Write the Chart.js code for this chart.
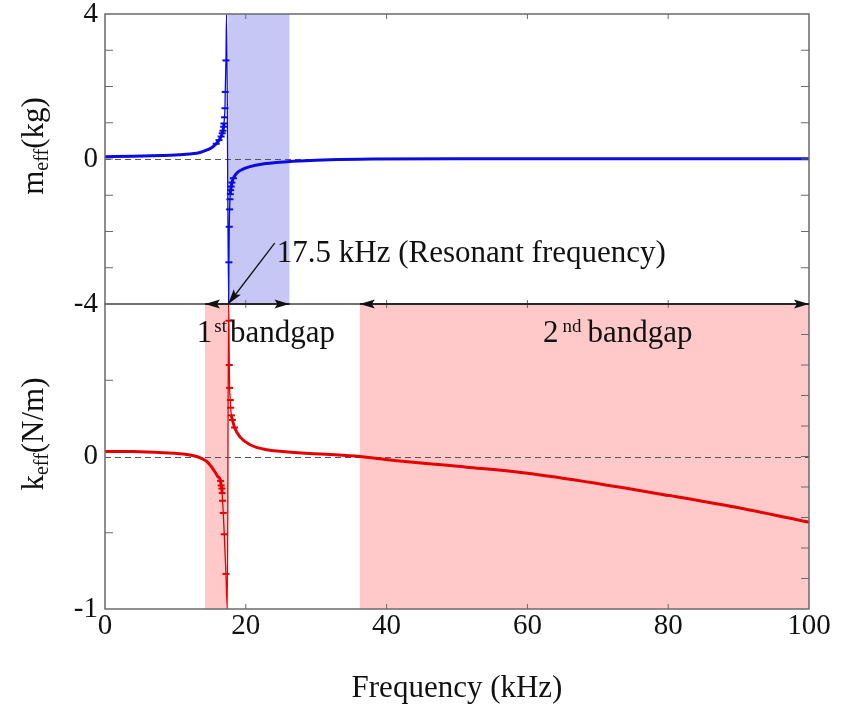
<!DOCTYPE html>
<html>
<head>
<meta charset="utf-8">
<script src="https://cdn.jsdelivr.net/npm/chart.js@4.4.1/dist/chart.umd.min.js"></script>
<style>
  html, body { margin: 0; padding: 0; background: #fff; }
  #wrap { width: 843px; height: 711px; }
</style>
</head>
<body>
<div id="wrap"><canvas id="bandChart" width="843" height="711"></canvas></div>
<script>
// x axis (kHz)
const freqTicks = [0, 20, 40, 60, 80, 100];

// effective mass m_eff (kg) - upper panel
const massFreq = [0, 4, 8, 10, 12, 13.5, 14.5, 15.2, 15.8, 16.2, 16.5, 16.65, 16.75, 16.85, 16.9, 16.97, 17.04, 17.08, 17.18, 17.27,
                  17.56, 17.6, 17.65, 17.7, 17.75, 17.8, 17.85, 17.93, 18.03, 18.24, 18.7, 19.6, 20.6, 22.4, 24.8, 27.7, 32, 38, 50, 70, 100];
const massVal  = [0.065, 0.075, 0.095, 0.11, 0.14, 0.18, 0.25, 0.32, 0.42, 0.52, 0.62, 0.71, 0.78, 0.89, 0.98, 1.15, 1.40, 1.85, 2.72, 4.0,
                  -4.0, -2.85, -1.87, -1.39, -1.11, -0.97, -0.86, -0.76, -0.65, -0.53, -0.39, -0.28, -0.21, -0.14, -0.09, -0.055, -0.02, 0, 0.01, 0.01, 0.01];

// effective stiffness k_eff (N/m) - lower panel
const stiffFreq = [0, 4, 8.3, 11.6, 13, 14.4, 15, 15.6, 16, 16.42, 16.5, 16.6, 16.64, 16.7, 16.8, 16.94, 17.18, 17.37,
                   17.56, 17.6, 17.65, 17.7, 17.8, 17.85, 17.95, 18.1, 18.4, 19.2, 20.6, 23, 26, 29, 32, 36.2, 41.9, 51.4, 60, 70.3, 80, 89.2, 100];
const stiffVal  = [0.033, 0.032, 0.024, 0.013, 0, -0.03, -0.06, -0.10, -0.13, -0.16, -0.19, -0.21, -0.24, -0.29, -0.37, -0.51, -0.77, -1.0,
                   1.0, 0.89, 0.60, 0.45, 0.37, 0.32, 0.27, 0.24, 0.19, 0.127, 0.077, 0.044, 0.03, 0.02, 0.013, 0, -0.03, -0.07, -0.11, -0.18, -0.255, -0.33, -0.43];

// labelled ticks on the two y axes
const massTickLabels = [4, 0, -4];
const stiffTickLabels = [0, -1];

// band gaps (kHz)
const massBand = [17.5, 26.2];
const stiffBands = [[14.2, 17.5], [36.2, 100]];
const gapArrows = [[14.2, 26.2], [36.2, 100]];
const resonantFreq = 17.5;

const FONT = "'Liberation Serif', 'Times New Roman', serif";
const BLUE = '#0b0bdc';
const RED = '#e60000';
const FRAME = '#6a6a6a';

function toPoints(xs, ys) {
    return xs.map((f, i) => ({ x: f, y: ys[i] }));
}

// thin line where the curve jumps (near resonance), thick elsewhere
function segWidth(ctx) {
    const dx = Math.abs(ctx.p1.x - ctx.p0.x);
    const dy = Math.abs(ctx.p1.y - ctx.p0.y);
    return dy > 3 * dx + 4 ? 1.3 : 3;
}

function drawRich(ctx, parts, x, y) {
    let cx = x;
    parts.forEach(p => {
        ctx.font = p.size + 'px ' + FONT;
        cx += (p.gap || 0);
        ctx.fillText(p.text, cx, y + (p.dy || 0));
        cx += ctx.measureText(p.text).width;
    });
    return cx - x;
}

function richWidth(ctx, parts) {
    let w = 0;
    parts.forEach(p => {
        ctx.font = p.size + 'px ' + FONT;
        w += ctx.measureText(p.text).width + (p.gap || 0);
    });
    return w;
}

function arrowHead(ctx, x, y, angle) {
    ctx.save();
    ctx.translate(x, y);
    ctx.rotate(angle);
    ctx.beginPath();
    ctx.moveTo(0, 0);
    ctx.lineTo(-15, -4.5);
    ctx.lineTo(-12, 0);
    ctx.lineTo(-15, 4.5);
    ctx.closePath();
    ctx.fill();
    ctx.restore();
}

const decor = {
    id: 'decor',
    beforeDatasetsDraw(chart) {
        const { ctx, scales: { x, yM, yK } } = chart;
        ctx.save();
        // band gap shading
        ctx.fillStyle = '#c7c7f6';
        let a = x.getPixelForValue(massBand[0]), b = x.getPixelForValue(massBand[1]);
        ctx.fillRect(a, yM.top, b - a, yM.bottom - yM.top);
        ctx.fillStyle = '#ffc9c9';
        stiffBands.forEach(r => {
            const l = x.getPixelForValue(r[0]), h = x.getPixelForValue(r[1]);
            ctx.fillRect(l, yK.top, h - l, yK.bottom - yK.top);
        });
        // dashed zero lines
        ctx.strokeStyle = '#555';
        ctx.lineWidth = 1.2;
        ctx.setLineDash([6, 4]);
        [yM, yK].forEach(s => {
            const y0 = Math.round(s.getPixelForValue(0)) + 0.5;
            ctx.beginPath();
            ctx.moveTo(x.left, y0);
            ctx.lineTo(x.right, y0);
            ctx.stroke();
        });
        ctx.restore();
    },
    afterDatasetsDraw(chart) {
        const { ctx, scales: { x, yM, yK } } = chart;
        const L = x.left, R = x.right;
        ctx.save();
        // frames
        ctx.strokeStyle = FRAME;
        ctx.lineWidth = 1.5;
        ctx.strokeRect(L, yM.top, R - L, yM.bottom - yM.top);
        ctx.strokeRect(L, yK.top, R - L, yK.bottom - yK.top);

        // inward tick marks
        ctx.lineWidth = 1;
        ctx.beginPath();
        for (let v = -3; v <= 3; v++) {
            const y = yM.getPixelForValue(v);
            ctx.moveTo(L, y); ctx.lineTo(L + 8, y);
            ctx.moveTo(R, y); ctx.lineTo(R - 8, y);
        }
        [-0.5, 0.5].forEach(v => {
            const y = yK.getPixelForValue(v);
            ctx.moveTo(L, y); ctx.lineTo(L + 8, y);
        });
        for (let i = -4; i <= 4; i++) {
            const y = yK.getPixelForValue(i * 0.2);
            ctx.moveTo(R, y); ctx.lineTo(R - 8, y);
        }
        freqTicks.slice(1, -1).forEach(f => {
            const px = x.getPixelForValue(f);
            ctx.moveTo(px, yM.top); ctx.lineTo(px, yM.top + 5);
            ctx.moveTo(px, yM.bottom - 4); ctx.lineTo(px, yM.bottom + 4);
            ctx.moveTo(px, yK.bottom); ctx.lineTo(px, yK.bottom - 5);
        });
        ctx.stroke();

        // band gap double arrows on the panel boundary
        ctx.strokeStyle = '#111';
        ctx.fillStyle = '#111';
        ctx.lineWidth = 1.5;
        const yb = yM.bottom;
        gapArrows.forEach(r => {
            const l = x.getPixelForValue(r[0]), h = x.getPixelForValue(r[1]);
            ctx.beginPath();
            ctx.moveTo(l, yb); ctx.lineTo(h, yb);
            ctx.stroke();
            arrowHead(ctx, l, yb, Math.PI);
            arrowHead(ctx, h, yb, 0);
        });

        // resonance pointer
        const tx = x.getPixelForValue(resonantFreq), ty = yM.getPixelForValue(-4);
        const sx = x.getPixelForValue(24.1), sy = yM.getPixelForValue(-2.32);
        ctx.lineWidth = 1.3;
        ctx.beginPath();
        ctx.moveTo(sx, sy); ctx.lineTo(tx, ty);
        ctx.stroke();
        arrowHead(ctx, tx, ty, Math.atan2(ty - sy, tx - sx));

        // texts
        ctx.fillStyle = '#111';
        ctx.textBaseline = 'alphabetic';
        ctx.textAlign = 'left';
        drawRich(ctx, [{ text: '17.5 kHz (Resonant frequency)', size: 31 }],
                 x.getPixelForValue(24.4), yM.getPixelForValue(-2.84));
        const gy = yK.getPixelForValue(0.75);
        drawRich(ctx, [{ text: '1', size: 31 }, { text: 'st', size: 19, dy: -10, gap: 2 }, { text: 'bandgap', size: 31, gap: 3 }],
                 x.getPixelForValue(13.05), gy);
        drawRich(ctx, [{ text: '2', size: 31 }, { text: 'nd', size: 19, dy: -10, gap: 4 }, { text: 'bandgap', size: 31, gap: 6 }],
                 x.getPixelForValue(62.2), gy);

        // rotated y titles with subscripts
        const titles = [
            { parts: [{ text: 'm', size: 31 }, { text: 'eff', size: 20, dy: 5 }, { text: '(kg)', size: 31 }], cy: 146 },
            { parts: [{ text: 'k', size: 31 }, { text: 'eff', size: 20, dy: 5 }, { text: '(N/m)', size: 31 }], cy: 434 }
        ];
        titles.forEach(t => {
            ctx.save();
            ctx.translate(43, t.cy);
            ctx.rotate(-Math.PI / 2);
            const w = richWidth(ctx, t.parts);
            drawRich(ctx, t.parts, -w / 2, 0);
            ctx.restore();
        });
        ctx.restore();
    }
};

function lineSet(label, xs, ys, axis, color, lo, hi) {
    return {
        label: label,
        data: toPoints(xs, ys),
        xAxisID: 'x',
        yAxisID: axis,
        borderColor: color,
        backgroundColor: color,
        borderWidth: 3,
        cubicInterpolationMode: 'monotone',
        pointStyle: 'line',
        pointBorderWidth: 2,
        pointRadius: c => {
            const v = Math.abs(c.raw.y);
            return v >= lo && v < hi ? 3.5 : 0;
        },
        segment: { borderWidth: segWidth },
        fill: false
    };
}

const tickFont = { family: FONT, size: 29 };

// y axes: fixed width, no extra room for half tick labels
function fitY(s) {
    s.width = 105;
    s.paddingTop = 0;
    s.paddingBottom = 0;
}

new Chart(document.getElementById('bandChart').getContext('2d'), {
    type: 'line',
    data: {
        datasets: [
            lineSet('m_eff', massFreq, massVal, 'yM', BLUE, 0.4, 3.5),
            lineSet('k_eff', stiffFreq, stiffVal, 'yK', RED, 0.14, 0.95)
        ]
    },
    options: {
        responsive: false,
        animation: false,
        layout: { padding: { top: 14, right: 34, left: 0, bottom: 0 } },
        plugins: { legend: { display: false }, tooltip: { enabled: false } },
        scales: {
            x: {
                type: 'linear', position: 'bottom', min: 0, max: 100,
                afterBuildTicks: s => { s.ticks = freqTicks.map(v => ({ value: v })); },
                ticks: { font: tickFont, color: '#111', padding: 0, maxRotation: 0 },
                grid: { display: false, drawTicks: false },
                border: { display: false },
                title: { display: true, text: 'Frequency (kHz)', color: '#111',
                         font: { family: FONT, size: 31 }, padding: { top: 0, bottom: 4 } },
                afterFit: s => { s.height = 102; s.paddingLeft = 0; s.paddingRight = 0; }
            },
            yK: {
                type: 'linear', position: 'left', stack: 'panels', stackWeight: 305,
                min: -1, max: 1,
                ticks: { stepSize: 0.5, autoSkip: false, font: tickFont, color: '#111', padding: 7,
                         callback: v => stiffTickLabels.includes(v) ? String(v) : '' },
                grid: { display: false, drawTicks: false },
                border: { display: false },
                afterFit: fitY
            },
            yM: {
                type: 'linear', position: 'left', stack: 'panels', stackWeight: 290,
                min: -4, max: 4,
                ticks: { stepSize: 1, autoSkip: false, font: tickFont, color: '#111', padding: 7,
                         callback: v => massTickLabels.includes(v) ? String(v) : '' },
                grid: { display: false, drawTicks: false },
                border: { display: false },
                afterFit: fitY
            }
        }
    },
    plugins: [decor]
});
</script>
</body>
</html>
